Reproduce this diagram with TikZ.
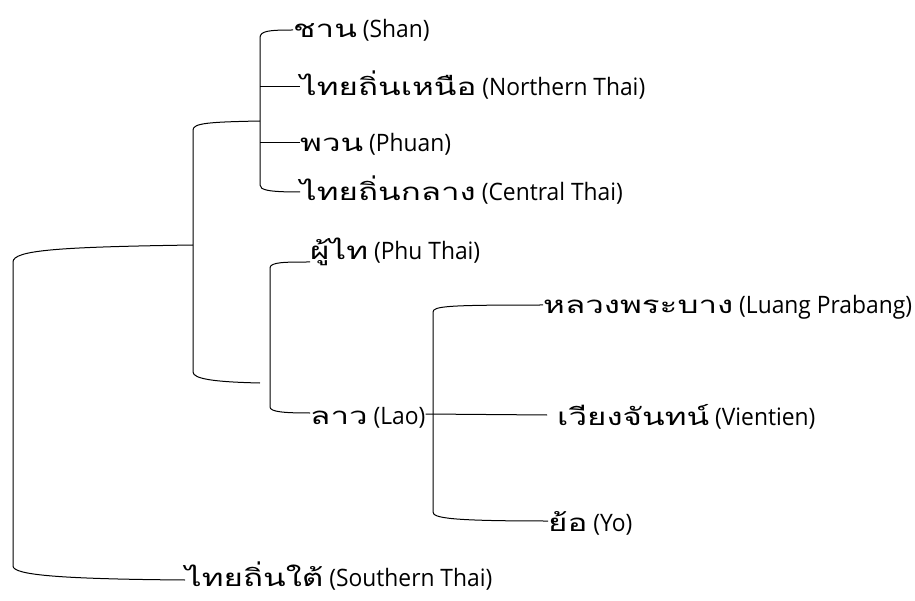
\documentclass[tikz,border=0pt]{standalone}
\usepackage{fontspec}
\setmainfont{Open Sans}[FakeStretch=0.95]
\newfontfamily\thaifont[Script=Thai,Scale=1.0,FakeStretch=1.38]{Loma}
\newcommand{\tht}[1]{{\thaifont #1}}
\begin{document}
\begin{tikzpicture}[x=1pt,y=-1pt,
  lbl/.style={anchor=base west, inner sep=0pt, font=\fontsize{24}{28}\selectfont},
  br/.style={draw=black, line width=1pt}]
\useasboundingbox[fill=white] (0,0) rectangle (915,601);
% labels
\node[lbl] (shan)    at (293,38)  {\tht{ชาน} (Shan)};
\node[lbl] (north)   at (300,96)  {\tht{ไทยถิ่นเหนือ} (Northern Thai)};
\node[lbl] (phuan)   at (300,152) {\tht{พวน} (Phuan)};
\node[lbl] (central) at (300,201) {\tht{ไทยถิ่นกลาง} (Central Thai)};
\node[lbl] (phuthai) at (310,260) {\tht{ผู้ไท} (Phu Thai)};
\node[lbl] (lao)     at (310,424) {\tht{ลาว} (Lao)};
\node[lbl] (luang)   at (543,314) {\tht{หลวงพระบาง} (Luang Prabang)};
\node[lbl] (vien)    at (557,425) {\tht{เวียงจันทน์} (Vientien)};
\node[lbl] (yo)      at (548,531) {\tht{ย้อ} (Yo)};
\node[lbl] (south)   at (185,586) {\tht{ไทยถิ่นใต้} (Southern Thai)};
% junction coordinates
\coordinate (r1) at (260,121);
\coordinate (r2) at (193,245);
\coordinate (j1) at (260,87);
\coordinate (j2) at (260,143);
% bracket 1
\draw[br] ([yshift=8pt]shan.base west) .. controls (268,30) and (260,31) .. (260,38) -- (260,185)
  .. controls (260,190) and (268,192) .. ([yshift=9pt]central.base west);
\draw[br] (j1) -- ([yshift=9pt]north.base west);
\draw[br] (j2) -- ([yshift=9pt]phuan.base west);
% bracket 2
\draw[br] (r1) .. controls (210,122) and (193,123) .. (193,130) -- (193,372)
  .. controls (193,379) and (215,382) .. (260,383);
% outer bracket
\draw[br] (r2) .. controls (60,247) and (13,250) .. (13,262) -- (13,566)
  .. controls (13,575) and (60,579) .. ([yshift=6pt]south.base west);
% bracket 3
\draw[br] ([yshift=-2pt]phuthai.base west) .. controls (285,262) and (270,262) .. (270,268) -- (270,407)
  .. controls (270,412) and (285,413) .. ([yshift=11pt]lao.base west);
% bracket 4
\draw[br] ([yshift=10pt]lao.base east) -- ([xshift=-10pt,yshift=10pt]vien.base west);
\draw[br] ([yshift=9pt]luang.base west) .. controls (450,305) and (433,306) .. (433,312) -- (433,512)
  .. controls (433,518) and (450,521) .. ([yshift=10pt]yo.base west);
\end{tikzpicture}
\end{document}
